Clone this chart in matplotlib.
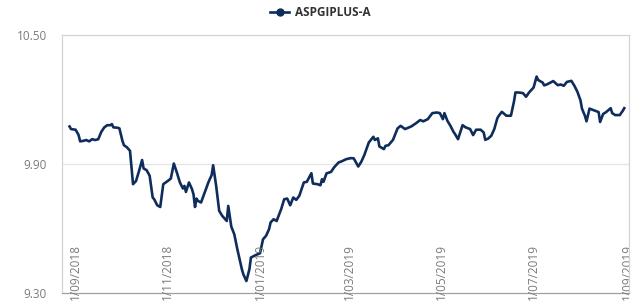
import matplotlib
matplotlib.use('Agg')
import matplotlib.pyplot as plt
import matplotlib.dates as mdates
from matplotlib.transforms import Bbox, TransformedBbox
from matplotlib.lines import Line2D
import pandas as pd

# series values
dates = [
	'2018-08-28', '2018-08-29', '2018-09-01', '2018-09-03', '2018-09-04', '2018-09-06', '2018-09-08',
	'2018-09-10', '2018-09-12', '2018-09-14', '2018-09-16', '2018-09-18', '2018-09-20', '2018-09-22',
	'2018-09-24', '2018-09-25', '2018-09-26', '2018-09-29', '2018-09-30', '2018-10-02', '2018-10-03',
	'2018-10-05', '2018-10-07', '2018-10-09', '2018-10-11', '2018-10-13', '2018-10-15', '2018-10-16',
	'2018-10-18', '2018-10-20', '2018-10-22', '2018-10-23', '2018-10-25', '2018-10-27', '2018-10-29',
	'2018-11-01', '2018-11-03', '2018-11-05', '2018-11-07', '2018-11-09', '2018-11-11', '2018-11-12',
	'2018-11-13', '2018-11-15', '2018-11-17', '2018-11-18', '2018-11-19', '2018-11-20', '2018-11-21',
	'2018-11-23', '2018-11-25', '2018-11-26', '2018-11-28', '2018-11-30', '2018-12-01', '2018-12-03',
	'2018-12-05', '2018-12-07', '2018-12-10', '2018-12-11', '2018-12-13', '2018-12-15', '2018-12-17',
	'2018-12-20', '2018-12-21', '2018-12-23', '2018-12-25', '2018-12-26', '2018-12-29', '2019-01-01',
	'2019-01-03', '2019-01-05', '2019-01-07', '2019-01-08', '2019-01-10', '2019-01-12', '2019-01-15',
	'2019-01-17', '2019-01-19', '2019-01-21', '2019-01-23', '2019-01-25', '2019-01-27', '2019-01-30',
	'2019-02-01', '2019-02-04', '2019-02-05', '2019-02-08', '2019-02-10', '2019-02-11', '2019-02-12',
	'2019-02-14', '2019-02-17', '2019-02-19', '2019-02-22', '2019-02-24', '2019-02-27', '2019-03-02',
	'2019-03-04', '2019-03-07', '2019-03-09', '2019-03-11', '2019-03-14', '2019-03-17', '2019-03-18',
	'2019-03-20', '2019-03-21', '2019-03-24', '2019-03-25', '2019-03-27', '2019-03-30', '2019-04-02',
	'2019-04-04', '2019-04-05', '2019-04-07', '2019-04-11', '2019-04-14', '2019-04-17', '2019-04-19',
	'2019-04-22', '2019-04-25', '2019-04-28', '2019-04-30', '2019-05-02', '2019-05-03', '2019-05-05',
	'2019-05-07', '2019-05-09', '2019-05-10', '2019-05-12', '2019-05-15', '2019-05-17', '2019-05-20',
	'2019-05-22', '2019-05-24', '2019-05-27', '2019-05-29', '2019-05-30', '2019-06-01', '2019-06-03',
	'2019-06-05', '2019-06-07', '2019-06-08', '2019-06-10', '2019-06-13', '2019-06-16', '2019-06-18',
	'2019-06-19', '2019-06-21', '2019-06-24', '2019-06-26', '2019-06-28', '2019-07-01', '2019-07-03',
	'2019-07-04', '2019-07-07', '2019-07-08', '2019-07-10', '2019-07-14', '2019-07-17', '2019-07-19',
	'2019-07-21', '2019-07-23', '2019-07-26', '2019-07-28', '2019-07-30', '2019-08-01', '2019-08-02',
	'2019-08-04', '2019-08-05', '2019-08-07', '2019-08-10', '2019-08-12', '2019-08-13', '2019-08-14',
	'2019-08-16', '2019-08-18', '2019-08-21', '2019-08-22', '2019-08-24', '2019-08-27', '2019-08-29',
	'2019-08-30',
]
values = [
	10.075, 10.063, 10.060, 10.035, 10.006, 10.008, 10.012,
	10.006, 10.016, 10.012, 10.016, 10.050, 10.071, 10.081,
	10.081, 10.086, 10.071, 10.069, 10.066, 10.008, 9.988,
	9.978, 9.962, 9.807, 9.822, 9.869, 9.919, 9.880,
	9.872, 9.846, 9.745, 9.737, 9.709, 9.701, 9.807,
	9.822, 9.833, 9.903, 9.861, 9.815, 9.787, 9.799,
	9.771, 9.815, 9.784, 9.760, 9.701, 9.740, 9.729,
	9.722, 9.760, 9.780, 9.818, 9.849, 9.895, 9.799,
	9.683, 9.660, 9.636, 9.706, 9.610, 9.574, 9.505,
	9.412, 9.388, 9.357, 9.412, 9.466, 9.477, 9.486,
	9.551, 9.567, 9.598, 9.629, 9.644, 9.636, 9.691,
	9.737, 9.740, 9.709, 9.745, 9.734, 9.753, 9.815,
	9.818, 9.858, 9.810, 9.807, 9.802, 9.830, 9.818,
	9.857, 9.864, 9.885, 9.908, 9.913, 9.923, 9.928,
	9.927, 9.889, 9.911, 9.942, 10.001, 10.027, 10.012,
	10.020, 9.982, 9.970, 9.985, 9.988, 10.013, 10.066,
	10.078, 10.073, 10.063, 10.075, 10.089, 10.105, 10.099,
	10.109, 10.137, 10.140, 10.137, 10.109, 10.137, 10.101,
	10.078, 10.050, 10.040, 10.016, 10.081, 10.071, 10.063,
	10.035, 10.060, 10.060, 10.047, 10.013, 10.019, 10.032,
	10.063, 10.113, 10.125, 10.143, 10.125, 10.125, 10.190,
	10.233, 10.233, 10.230, 10.213, 10.233, 10.256, 10.307,
	10.291, 10.279, 10.266, 10.271, 10.286, 10.267, 10.270,
	10.264, 10.282, 10.287, 10.264, 10.236, 10.197, 10.158,
	10.124, 10.099, 10.158, 10.150, 10.145, 10.142, 10.096,
	10.133, 10.142, 10.160, 10.137, 10.128, 10.128, 10.148,
	10.160,
]
series_name = 'ASPGIPLUS-A'
x_ticks = ['2018-09-01', '2018-11-01', '2019-01-01', '2019-03-01', '2019-05-01', '2019-07-01', '2019-09-01']
y_ticks = [9.30, 9.90, 10.50]

LINE = '#0f2d5c'
GREY = '#7a7a7a'

plt.rcParams['font.family'] = ['Open Sans', 'DejaVu Sans']

fig = plt.figure(figsize=(6.41, 3.06), dpi=100)
ax = fig.add_axes([0.0967, 0.0415, 0.8843, 0.8441])

x = pd.to_datetime(dates)
ax.plot(x, values, color=LINE, linewidth=1.9, solid_joinstyle='round')

ax.set_xlim(pd.Timestamp('2018-08-23'), pd.Timestamp('2019-09-02'))
ax.set_ylim(y_ticks[0], y_ticks[-1])

ax.set_yticks(y_ticks)
ax.set_yticklabels(['%.2f' % v for v in y_ticks])
ax.tick_params(axis='y', length=0, pad=11, labelsize=8.5, labelcolor=GREY)
ax.set_xticks([])
ax.grid(False)
ax.axhline(9.90, color='#e4e4e4', linewidth=0.9, zorder=0)

for side in ['top', 'left', 'right']:
	ax.spines[side].set_color('#d4d4d4')
	ax.spines[side].set_linewidth(0.9)
ax.spines['bottom'].set_color('#a0a0a0')
ax.spines['bottom'].set_linewidth(0.9)

# rotated date labels drawn inside the plot, clipped at the right border
clip = TransformedBbox(Bbox([[-0.2, -0.5], [1.0, 1.0]]), ax.transAxes)
for d in x_ticks:
	t = ax.text(
		mdates.date2num(pd.Timestamp(d)), 0.19, '1/' + d[5:7] + '/' + d[:4],
		transform=ax.get_xaxis_transform(), rotation=90, ha='center', va='top',
		fontsize=8.5, color=GREY, clip_on=True
	)
	t.set_clip_box(clip)

handle = Line2D([], [], color=LINE, linewidth=1.9, marker='o', markersize=5)
leg = fig.legend(
	[handle], [series_name], loc='center', bbox_to_anchor=(0.5, 0.958), frameon=False,
	handlelength=1.6, handletextpad=0.5, prop={'size': 8.5, 'weight': 'bold'}
)
for txt in leg.get_texts():
	txt.set_color('#333333')

fig.savefig('out.png', dpi=100)
